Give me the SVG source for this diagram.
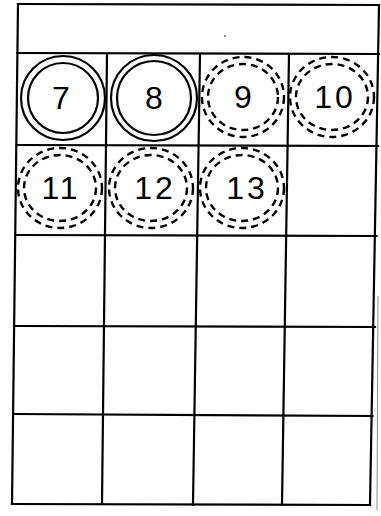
<svg xmlns="http://www.w3.org/2000/svg" width="381" height="516" viewBox="0 0 381 516">
<style>
.g{stroke:#000;stroke-width:2.2;fill:none;stroke-linecap:square}
.s{stroke:#000;stroke-width:2.2;fill:none}
.d{stroke:#000;stroke-width:2.4;fill:none;stroke-dasharray:7 5}
.t{font-family:"Liberation Sans",Arial,sans-serif;font-size:32px;fill:#000;text-anchor:middle;dominant-baseline:central}
</style>
<rect width="381" height="516" fill="#fff"/>
<g id="grid" class="g">
<line x1="18" y1="4" x2="379" y2="5"/>
<line x1="17.5" y1="53" x2="379" y2="54"/>
<line x1="17" y1="145" x2="378" y2="146"/>
<line x1="16" y1="235" x2="376.5" y2="236"/>
<line x1="15" y1="326" x2="375" y2="327"/>
<line x1="14" y1="414" x2="372.5" y2="416"/>
<line x1="12" y1="504" x2="370" y2="505"/>
<line x1="18" y1="4" x2="12" y2="504"/>
<line x1="379" y1="5" x2="370" y2="505"/>
<line x1="107" y1="54" x2="102" y2="504"/>
<line x1="200" y1="54" x2="193" y2="505"/>
<line x1="289" y1="54" x2="282" y2="505"/>
</g>
<line x1="378" y1="296" x2="377" y2="510" stroke="#888" stroke-width="1"/>
<circle cx="225" cy="36" r="0.8" fill="#000"/>
<g id="n7">
<circle class="s" cx="63" cy="98" r="42"/>
<circle class="s" cx="63" cy="98" r="35"/>
<text class="t" x="61" y="98">7</text>
</g>
<g id="n8">
<circle class="s" cx="154" cy="98" r="43"/>
<circle class="s" cx="154" cy="98" r="37"/>
<text class="t" x="154" y="98">8</text>
</g>
<g id="n9">
<ellipse class="d" cx="243" cy="97" rx="41" ry="40"/>
<ellipse class="d" cx="243" cy="97" rx="35" ry="33"/>
<text class="t" x="243" y="97">9</text>
</g>
<g id="n10">
<ellipse class="d" cx="332" cy="97" rx="42" ry="40"/>
<ellipse class="d" cx="332" cy="97" rx="36" ry="33"/>
<text class="t" x="335" y="97" letter-spacing="3">10</text>
</g>
<g id="n11">
<ellipse class="d" cx="60" cy="188" rx="42" ry="40"/>
<ellipse class="d" cx="60" cy="188" rx="36" ry="33"/>
<text class="t" x="61" y="188" letter-spacing="3">11</text>
</g>
<g id="n12">
<ellipse class="d" cx="151" cy="188" rx="42" ry="40"/>
<ellipse class="d" cx="151" cy="188" rx="36" ry="33"/>
<text class="t" x="155" y="188" letter-spacing="3">12</text>
</g>
<g id="n13">
<ellipse class="d" cx="242" cy="188" rx="42" ry="40"/>
<ellipse class="d" cx="242" cy="188" rx="36" ry="33"/>
<text class="t" x="247" y="188" letter-spacing="3">13</text>
</g>
</svg>
